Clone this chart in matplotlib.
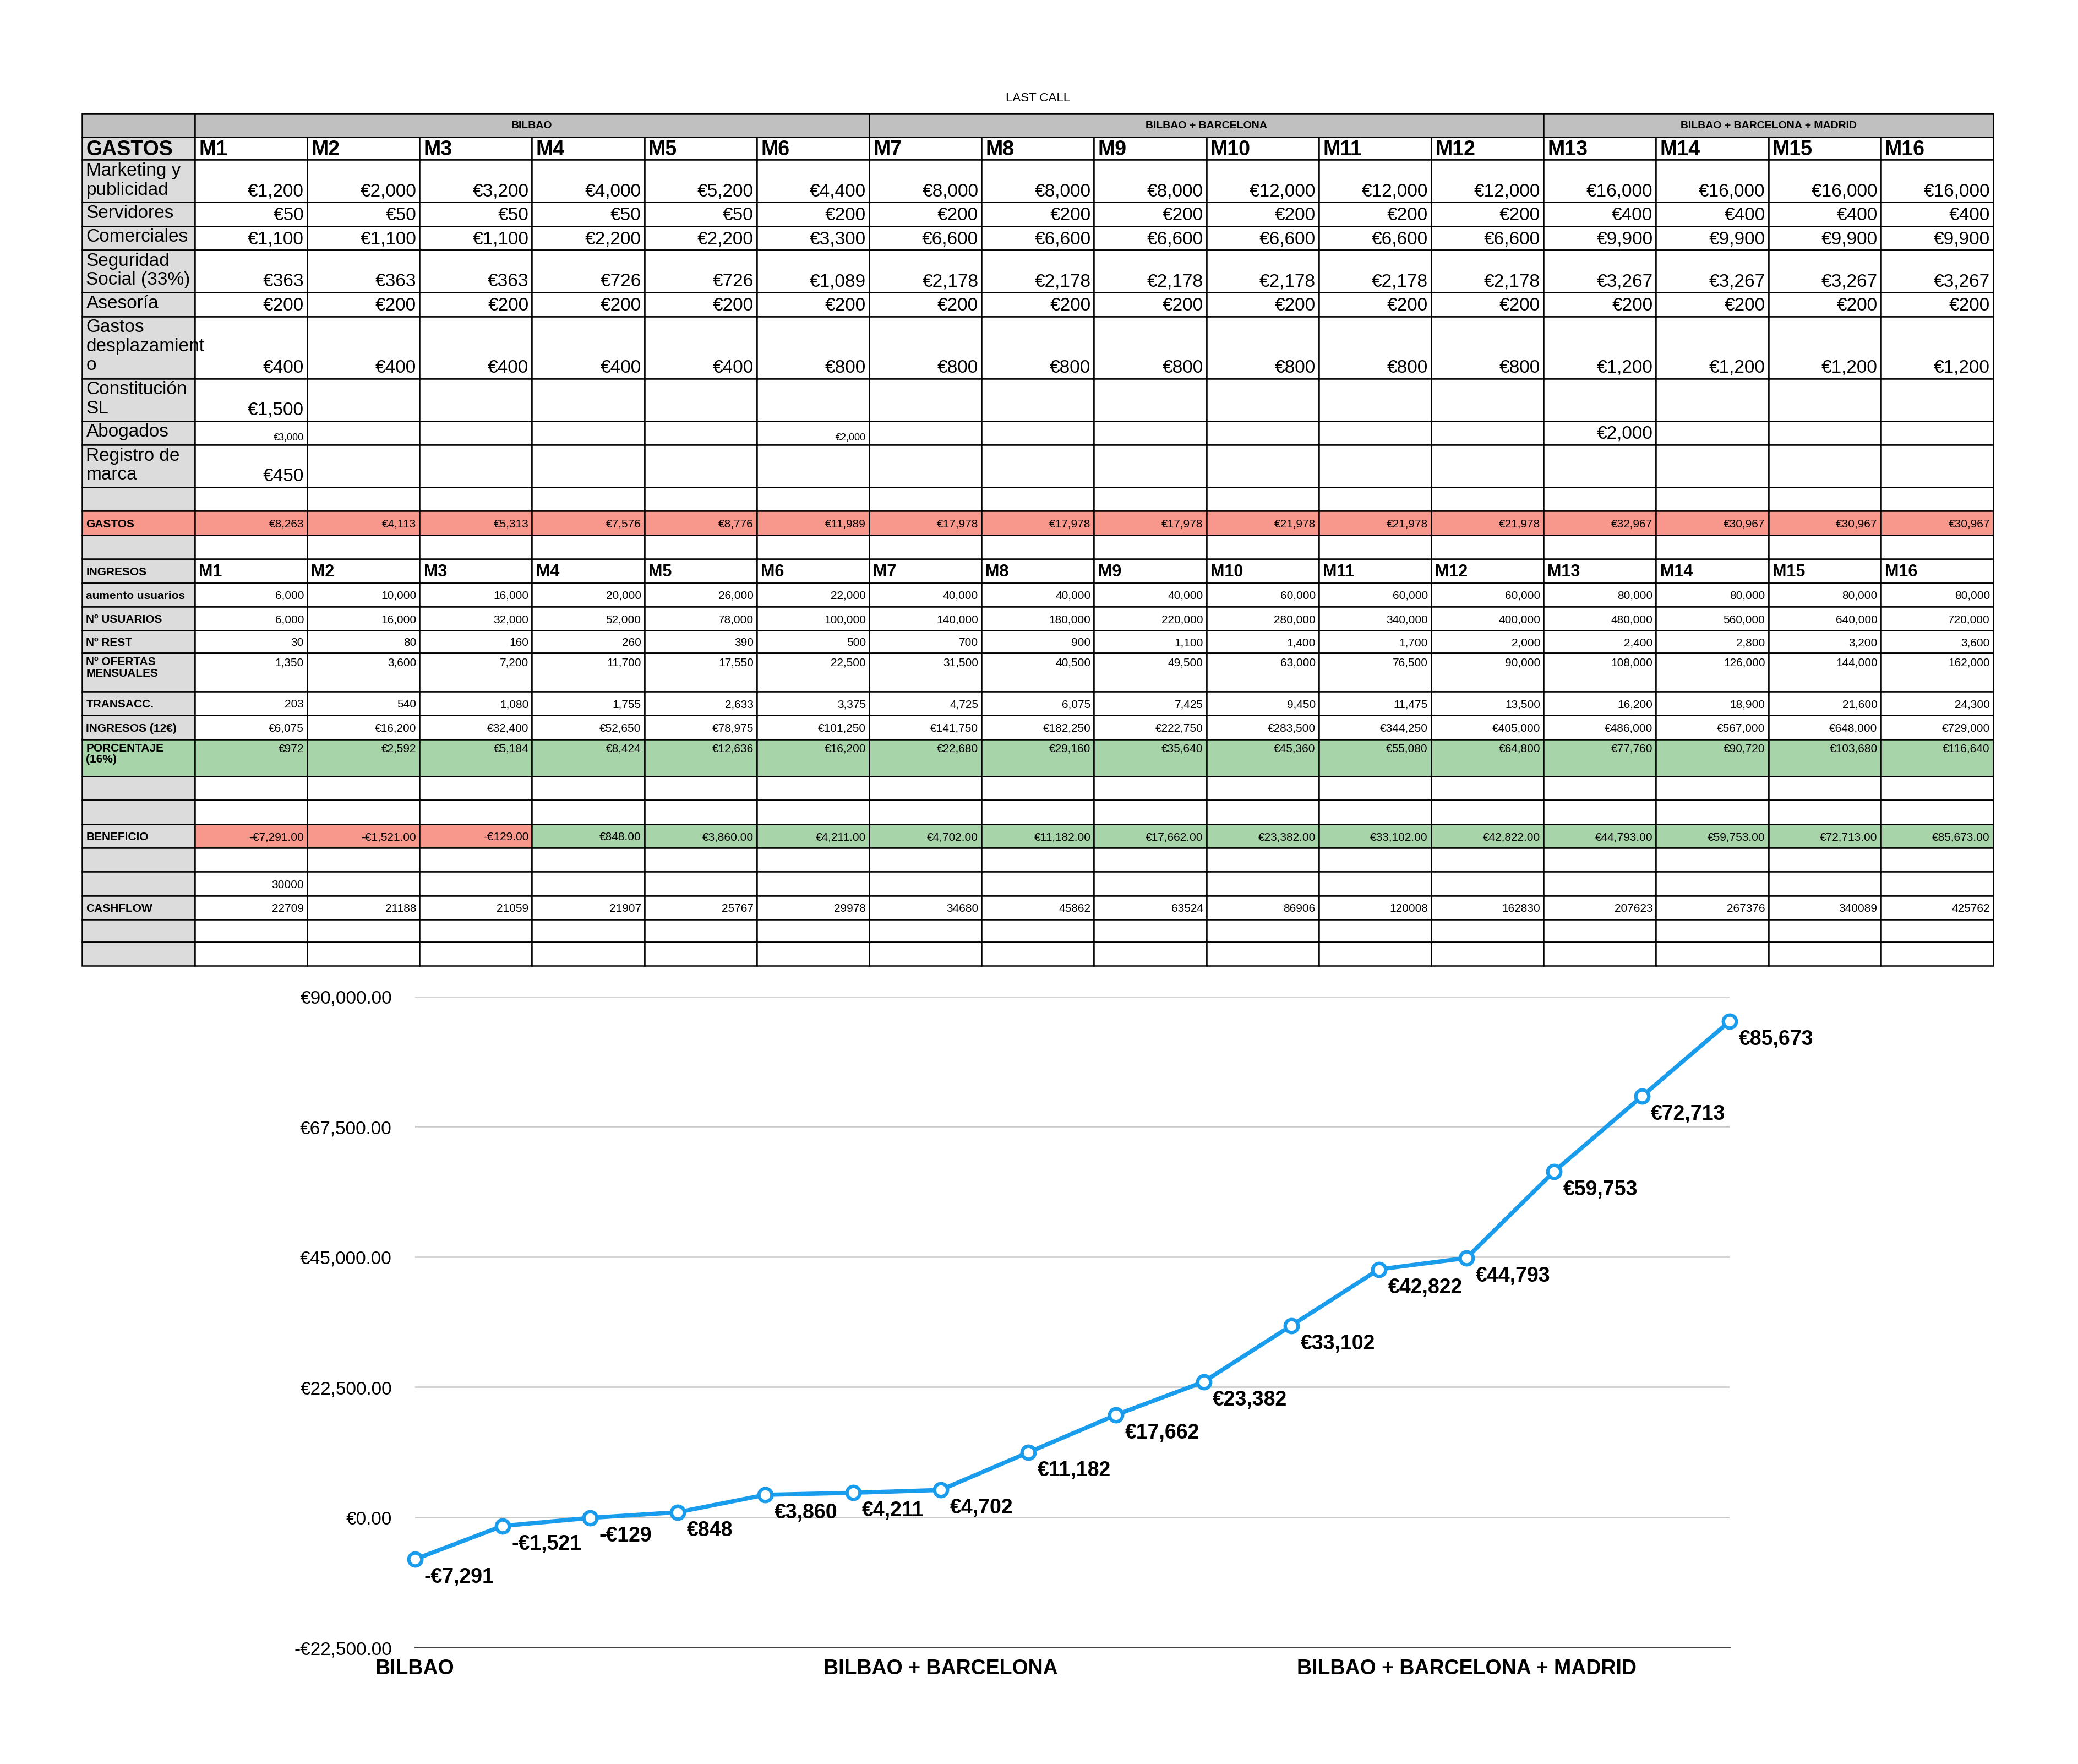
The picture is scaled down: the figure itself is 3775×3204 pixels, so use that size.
import matplotlib
matplotlib.use("Agg")
import matplotlib.pyplot as plt
from matplotlib.patches import Rectangle

plt.rcParams['font.family'] = ['Liberation Sans', 'DejaVu Sans']

months = [f"M{i}" for i in range(1, 17)]
regions = ["BILBAO", "BILBAO + BARCELONA", "BILBAO + BARCELONA + MADRID"]

marketing = [1200, 2000, 3200, 4000, 5200, 4400, 8000, 8000, 8000, 12000, 12000, 12000, 16000, 16000, 16000, 16000]
servidores = [50, 50, 50, 50, 50, 200, 200, 200, 200, 200, 200, 200, 400, 400, 400, 400]
comerciales = [1100, 1100, 1100, 2200, 2200, 3300, 6600, 6600, 6600, 6600, 6600, 6600, 9900, 9900, 9900, 9900]
seguridad = [363, 363, 363, 726, 726, 1089, 2178, 2178, 2178, 2178, 2178, 2178, 3267, 3267, 3267, 3267]
asesoria = [200] * 16
desplaz = [400, 400, 400, 400, 400, 800, 800, 800, 800, 800, 800, 800, 1200, 1200, 1200, 1200]
constitucion = {0: 1500}
abogados = {0: 3000, 5: 2000, 12: 2000}
registro = {0: 450}
gastos = [8263, 4113, 5313, 7576, 8776, 11989, 17978, 17978, 17978, 21978, 21978, 21978, 32967, 30967, 30967, 30967]
aumento = [6000, 10000, 16000, 20000, 26000, 22000, 40000, 40000, 40000, 60000, 60000, 60000, 80000, 80000, 80000, 80000]
usuarios = [6000, 16000, 32000, 52000, 78000, 100000, 140000, 180000, 220000, 280000, 340000, 400000, 480000, 560000, 640000, 720000]
rest = [30, 80, 160, 260, 390, 500, 700, 900, 1100, 1400, 1700, 2000, 2400, 2800, 3200, 3600]
ofertas = [1350, 3600, 7200, 11700, 17550, 22500, 31500, 40500, 49500, 63000, 76500, 90000, 108000, 126000, 144000, 162000]
transacc = [203, 540, 1080, 1755, 2633, 3375, 4725, 6075, 7425, 9450, 11475, 13500, 16200, 18900, 21600, 24300]
ingresos = [6075, 16200, 32400, 52650, 78975, 101250, 141750, 182250, 222750, 283500, 344250, 405000, 486000, 567000, 648000, 729000]
porcentaje = [972, 2592, 5184, 8424, 12636, 16200, 22680, 29160, 35640, 45360, 55080, 64800, 77760, 90720, 103680, 116640]
beneficio = [-7291, -1521, -129, 848, 3860, 4211, 4702, 11182, 17662, 23382, 33102, 42822, 44793, 59753, 72713, 85673]
cashflow = [22709, 21188, 21059, 21907, 25767, 29978, 34680, 45862, 63524, 86906, 120008, 162830, 207623, 267376, 340089, 425762]
caja_inicial = 30000

GREY_HDR = "#c0c0c0"
GREY_LBL = "#dcdcdc"
RED = "#f8978c"
GREEN = "#a7d4a9"
BLUE = "#1a9cec"

def eur(v):
    return ("-€" if v < 0 else "€") + f"{abs(v):,}"

fig = plt.figure(figsize=(37.75, 32.05), dpi=100)
tab = fig.add_axes([0, 0, 1, 1])
tab.set_xlim(0, 1568)
tab.set_ylim(1331, 0)
tab.axis("off")

xl, xr = 62, 1504
cols = [147 + i * (xr - 147) / 16 for i in range(17)]
BIG, SMALL, HDR = 24, 15, 27

tab.text(783, 74, "LAST CALL", ha="center", va="center", fontsize=16)

# rows: (top, bottom, label, values, kind)
rows = [
    (121, 153, "Marketing y\npublicidad", [eur(v) for v in marketing], "big"),
    (153, 171, "Servidores", [eur(v) for v in servidores], "big"),
    (171, 189, "Comerciales", [eur(v) for v in comerciales], "big"),
    (189, 221, "Seguridad\nSocial (33%)", [eur(v) for v in seguridad], "big"),
    (221, 239, "Asesoría", [eur(v) for v in asesoria], "big"),
    (239, 286, "Gastos\ndesplazamient\no", [eur(v) for v in desplaz], "big"),
    (286, 318, "Constitución\nSL", [eur(constitucion[i]) if i in constitucion else "" for i in range(16)], "big"),
    (318, 336, "Abogados", [eur(abogados[i]) if i in abogados else "" for i in range(16)], "abog"),
    (336, 368, "Registro de\nmarca", [eur(registro[i]) if i in registro else "" for i in range(16)], "big"),
    (368, 386, "", [""] * 16, "big"),
    (386, 404, "GASTOS", [eur(v) for v in gastos], "red"),
    (404, 422, "", [""] * 16, "big"),
    (440, 458, "aumento usuarios", [f"{v:,}" for v in aumento], "small"),
    (458, 476, "Nº USUARIOS", [f"{v:,}" for v in usuarios], "small"),
    (476, 493, "Nº REST", [f"{v:,}" for v in rest], "small"),
    (493, 522, "Nº OFERTAS\nMENSUALES", [f"{v:,}" for v in ofertas], "smalltop"),
    (522, 540, "TRANSACC.", [f"{v:,}" for v in transacc], "small"),
    (540, 558, "INGRESOS (12€)", [eur(v) for v in ingresos], "small"),
    (558, 586, "PORCENTAJE\n(16%)", [eur(v) for v in porcentaje], "green"),
    (586, 604, "", [""] * 16, "small"),
    (604, 622, "", [""] * 16, "small"),
    (622, 640, "BENEFICIO", [eur(v) + ".00" for v in beneficio], "benef"),
    (640, 658, "", [""] * 16, "small"),
    (658, 676, "", [str(caja_inicial)] + [""] * 15, "small"),
    (676, 694, "CASHFLOW", [str(v) for v in cashflow], "small"),
    (694, 711, "", [""] * 16, "small"),
    (711, 729, "", [""] * 16, "small"),
]

def rect(x0, y0, x1, y1, fc):
    tab.add_patch(Rectangle((x0, y0), x1 - x0, y1 - y0, facecolor=fc, edgecolor="black", lw=1.8))

# region header row
rect(xl, 86, cols[0], 104, GREY_HDR)
for k, name in enumerate(regions):
    a, b = cols[k * 6], cols[min(k * 6 + 6, 16)]
    rect(a, 86, b, 104, GREY_HDR)
    tab.text((a + b) / 2, 95, name, ha="center", va="center", fontsize=14, fontweight="bold")

# month header rows
for top, bot, lab in [(104, 121, "GASTOS"), (422, 440, "INGRESOS")]:
    rect(xl, top, cols[0], bot, GREY_LBL)
    tab.text(xl + 3, (top + bot) / 2 + 0.5, lab, ha="left", va="center",
             fontsize=HDR if lab == "GASTOS" else SMALL, fontweight="bold")
    for i in range(16):
        rect(cols[i], top, cols[i + 1], bot, "white")
        tab.text(cols[i] + 3, (top + bot) / 2 + 0.5, months[i], ha="left", va="center",
                 fontsize=HDR if lab == "GASTOS" else 22, fontweight="bold")

for top, bot, lab, vals, kind in rows:
    fc_lbl = {"red": RED, "green": GREEN}.get(kind, GREY_LBL)
    rect(xl, top, cols[0], bot, fc_lbl)
    small_lbl = kind not in ("big", "abog")
    if small_lbl:
        tab.text(xl + 3, top + 2.5 if "\n" in lab else (top + bot) / 2 + 0.5, lab,
                 ha="left", va="top" if "\n" in lab else "center",
                 fontsize=SMALL, fontweight="bold", linespacing=1.1)
    else:
        tab.text(xl + 3, top + 1.5, lab, ha="left", va="top", fontsize=BIG, linespacing=1.15)
    for i in range(16):
        v = vals[i]
        if kind == "red":
            fc = RED
        elif kind == "green":
            fc = GREEN
        elif kind == "benef":
            fc = RED if beneficio[i] < 0 else GREEN
        else:
            fc = "white"
        rect(cols[i], top, cols[i + 1], bot, fc)
        if not v:
            continue
        x = cols[i + 1] - 2.5
        if kind == "big":
            tab.text(x, bot - 2, v, ha="right", va="bottom", fontsize=BIG)
        elif kind == "abog":
            fs = BIG if i == 12 else 13
            tab.text(x, bot - 2.5, v, ha="right", va="bottom", fontsize=fs)
        elif kind in ("smalltop", "green"):
            tab.text(x, top + 3, v, ha="right", va="top", fontsize=SMALL)
        else:
            tab.text(x, (top + bot) / 2 + 0.5, v, ha="right", va="center", fontsize=SMALL)

# line chart
ax = fig.add_axes([313 / 1568, 1 - 1243 / 1331, (1305 - 313) / 1568, (1243 - 752) / 1331])
xs = list(range(len(beneficio)))
ax.plot(xs, beneficio, color=BLUE, lw=5.5, marker="o", markersize=17,
        markerfacecolor="white", markeredgecolor=BLUE, markeredgewidth=4.5, zorder=3, clip_on=False)
for x, v in zip(xs, beneficio):
    ax.annotate(eur(v), (x, v), xytext=(12, -23), textcoords="offset points",
                ha="left", va="center", fontsize=27, fontweight="bold")
ax.set_xlim(0, 15)
ax.set_ylim(-22500, 90000)
ax.set_yticks([-22500, 0, 22500, 45000, 67500, 90000])
ax.set_yticklabels([("-€" if t < 0 else "€") + f"{abs(t):,}.00" for t in [-22500, 0, 22500, 45000, 67500, 90000]],
                   fontsize=24)
ax.set_xticks([0, 6, 12])
ax.set_xticklabels(regions, fontsize=27, fontweight="bold")
ax.tick_params(length=0, pad=14)
ax.tick_params(axis="y", pad=30)
ax.grid(axis="y", color="#c8c8c8", lw=1.8)
for s in ["top", "right", "left"]:
    ax.spines[s].set_visible(False)
ax.spines["bottom"].set_color("#444444")
ax.spines["bottom"].set_linewidth(2)
ax.set_axisbelow(True)

fig.savefig("out.png", dpi=100)
